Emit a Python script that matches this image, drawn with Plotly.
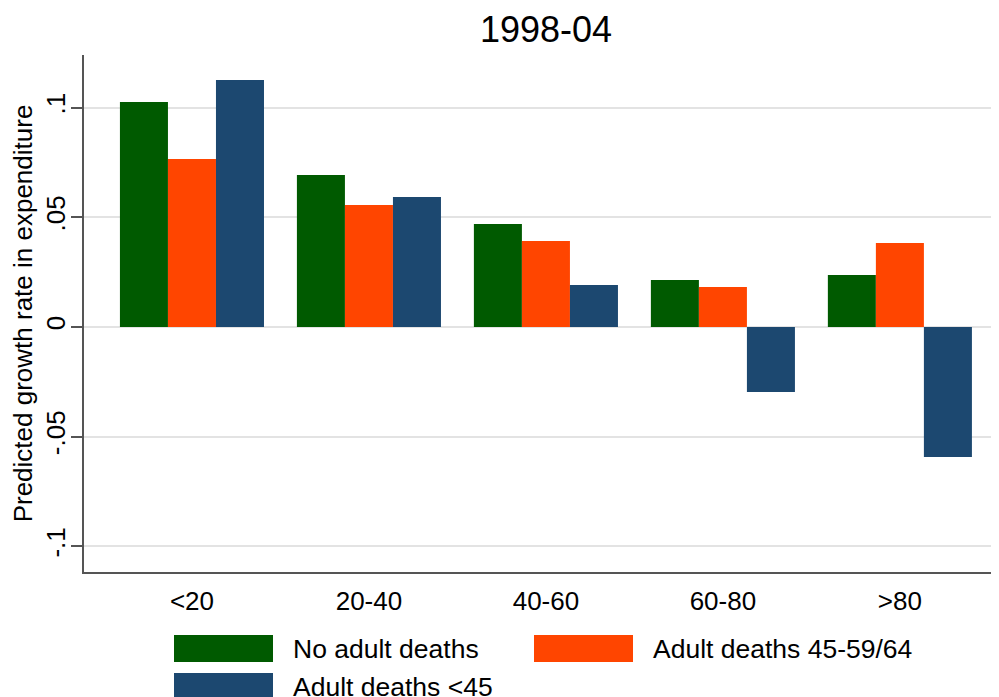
import plotly.graph_objects as go

categories = ["<20", "20-40", "40-60", "60-80", ">80"]
no_adult_deaths = [0.1026, 0.0693, 0.0469, 0.0214, 0.0237]
adult_deaths_45_59_64 = [0.0766, 0.0556, 0.0392, 0.0182, 0.0383]
adult_deaths_lt45 = [0.1126, 0.0593, 0.0191, -0.0296, -0.0593]
series_names = ["No adult deaths", "Adult deaths 45-59/64", "Adult deaths <45"]
series_colors = ["#005a00", "#ff4500", "#1c4870"]
ytick_vals = [-0.1, -0.05, 0, 0.05, 0.1]
ytick_text = ["-.1", "-.05", "0", ".05", ".1"]

FONT = "Liberation Sans, Arial, sans-serif"
x = list(range(len(categories)))

fig = go.Figure()
for name, vals, col in zip(series_names,
                           [no_adult_deaths, adult_deaths_45_59_64, adult_deaths_lt45],
                           series_colors):
    fig.add_trace(go.Bar(x=x, y=vals, name=name, marker_color=col,
                         marker_line_width=0, showlegend=False))

OFF = 8  # page body margin
W, H = 999 - OFF, 697 - OFF
PL, PR, PT, PB = 84, 999, 55, 572  # plot area in page pixels
L, R, T, B = PL - OFF, 0, PT - OFF, OFF + H - PB
pw, ph = PR - PL, PB - PT

def px(xp):
    return (xp - PL) / pw

def py(yp):
    return (PB - yp) / ph

# manual legend (large key boxes, Stata style)
legend_pos = [(174, 635, 291), (534, 635, 651), (174, 673, 291)]
for (bx, by, tx), name, col in zip(legend_pos, series_names, series_colors):
    fig.add_shape(type="rect", xref="paper", yref="paper",
                  x0=px(bx), x1=px(bx + 99), y0=py(by), y1=py(by + 27),
                  fillcolor=col, line_width=0)
    fig.add_annotation(xref="paper", yref="paper", x=px(tx), y=py(by + 14),
                       text=name, showarrow=False, xanchor="left", yanchor="middle",
                       font=dict(family=FONT, size=26.5, color="black"))

fig.update_layout(
    width=W, height=H,
    margin=dict(l=L, r=R, t=T, b=B, pad=0),
    plot_bgcolor="white", paper_bgcolor="white",
    barmode="group", bargap=0.186, bargroupgap=0,
    font=dict(family=FONT, size=26, color="black"),
    title=dict(text="1998-04", x=0.505, xref="paper", xanchor="center",
               y=1 - (29 - OFF) / H, yanchor="middle", yref="container",
               font=dict(family=FONT, size=36, color="black")),
    xaxis=dict(tickvals=x, ticktext=categories, range=[-0.61, 4.56],
               showgrid=False, zeroline=False, showline=True, linecolor="#555555",
               linewidth=2, ticks="", ticklabelstandoff=5,
               tickfont=dict(family=FONT, size=26, color="black")),
    yaxis=dict(tickvals=ytick_vals, ticktext=ytick_text, range=[-0.1117, 0.124],
               showgrid=True, gridcolor="#e3e3e3", gridwidth=2,
               zeroline=False, showline=True, linecolor="#555555", linewidth=2,
               ticks="outside", ticklen=11, tickwidth=1.5, tickcolor="#555555",
               tickangle=-90, ticklabelstandoff=-4,
               tickfont=dict(family=FONT, size=26, color="black"),
               title=dict(text="Predicted growth rate in expenditure",
                          font=dict(family=FONT, size=26, color="black"),
                          standoff=8)),
)

fig.write_html("out.html")
